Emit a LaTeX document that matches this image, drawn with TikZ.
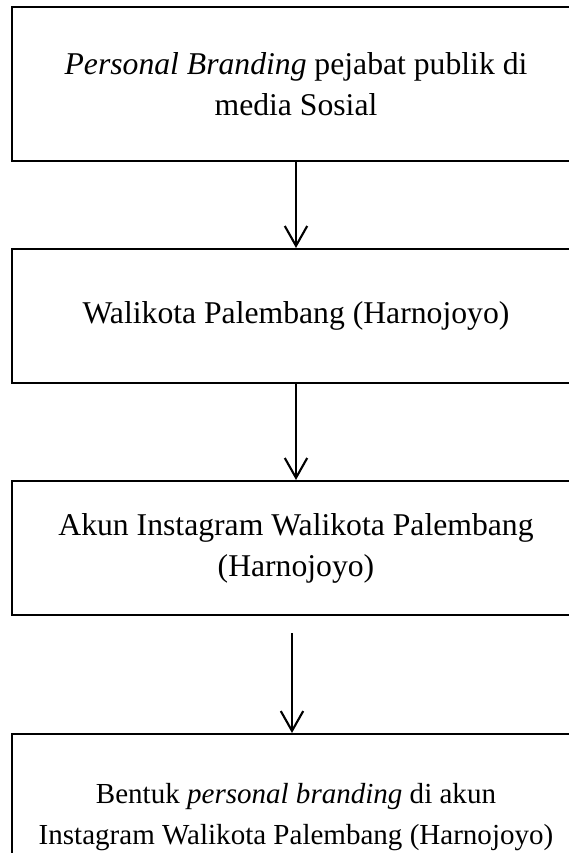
\documentclass[tikz,border=0pt]{standalone}
\usepackage{fontspec}
\setmainfont{Liberation Serif}
\usetikzlibrary{arrows.meta}
\begin{document}
\begin{tikzpicture}[x=0.3788pt,y=-0.3788pt,line width=0.8pt,
	box/.style={draw,inner sep=0pt,align=center,minimum width=568*0.3788pt,minimum height=134*0.3788pt,font=\fontsize{12}{15.5}\selectfont},
	arr/.style={-{Straight Barb[length=7.5pt,width=8.5pt,line width=0.8pt]}}]
	\useasboundingbox (0,0) rectangle (569,853);
	\node[box,minimum height=154*0.3788pt] (medsos) at (296,84) {\textit{Personal Branding} pejabat publik di\\media Sosial};
	\node[box] (walikota) at (296,316) {Walikota Palembang (Harnojoyo)};
	\node[box] (akun) at (296,548) {Akun Instagram Walikota Palembang\\(Harnojoyo)};
	\node[box,minimum height=166*0.3788pt,anchor=north,font=\fontsize{11}{15.2}\selectfont] (bentuk) at (296,733) {Bentuk \textit{personal branding} di akun\\Instagram Walikota Palembang (Harnojoyo)};
	\coordinate (mulai) at (292,633);
	\draw[arr] (medsos.south)--(walikota.north);
	\draw[arr] (walikota.south)--(akun.north);
	\draw[arr] (mulai)--(mulai|-bentuk.north);
\end{tikzpicture}
\end{document}
